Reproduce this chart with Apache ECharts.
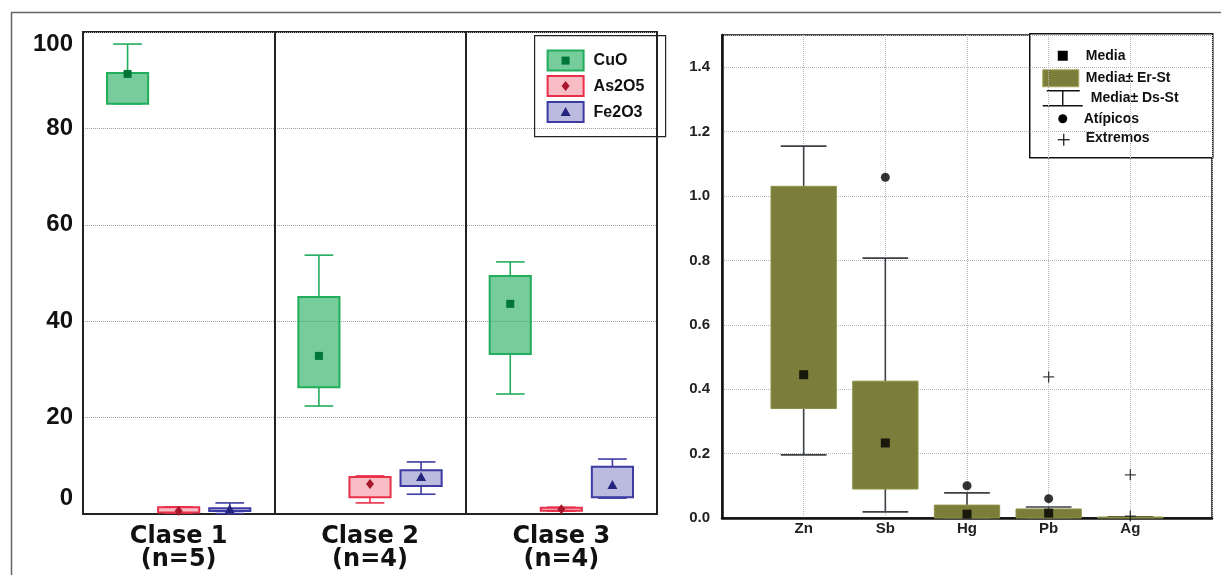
<!DOCTYPE html>
<html>
<head>
<meta charset="utf-8">
<script src="https://cdn.jsdelivr.net/npm/echarts@6/dist/echarts.min.js"></script>
<style>
html, body { margin: 0; padding: 0; background: #fff; }
#main { width: 1221px; height: 575px; }
</style>
</head>
<body>
<div id="main"></div>
<script>
// --- grafico izquierdo: composicion por clase (%) ---
var clases = ['Clase 1', 'Clase 2', 'Clase 3'];
var nClase = [5, 4, 4];

var cuoMin   = [85.1, 22.4, 24.9];
var cuoQ1    = [85.1, 26.3, 33.2];
var cuoMedia = [91.3, 32.8, 43.6];
var cuoQ3    = [91.5, 45.0, 49.4];
var cuoMax   = [97.5, 53.7, 52.3];

var asMin    = [0.2, 2.3, 0.6];
var asQ1     = [0.3, 3.5, 0.7];
var asMedia  = [0.6, 6.2, 1.0];
var asQ3     = [1.4, 7.7, 1.3];
var asMax    = [1.5, 7.9, 1.4];

var feMin    = [0.1, 4.1, 3.3];
var feQ1     = [0.6, 5.8, 3.5];
var feMedia  = [1.0, 7.7, 6.0];
var feQ3     = [1.2, 9.1, 9.8];
var feMax    = [2.3, 10.8, 11.4];

// --- grafico derecho: metales ---
var metales  = ['Zn', 'Sb', 'Hg', 'Pb', 'Ag'];
var media    = [0.445, 0.233, 0.012, 0.015, null];
var erInf    = [0.34, 0.09, 0, 0, 0];
var erSup    = [1.03, 0.425, 0.04, 0.028, 0.003];
var dsInf    = [0.196, 0.019, 0, 0, 0.001];
var dsSup    = [1.155, 0.807, 0.078, 0.034, 0.004];
var atipicos = [['Sb', 1.058], ['Hg', 0.10], ['Pb', 0.06]];
var extremos = [['Pb', 0.438], ['Ag', 0.134], ['Ag', 0.006]];

var cols = {
    cuo: { line: '#22ad5c', fill: 'rgba(34,173,92,0.62)', dark: '#00753a', mark: 'rect' },
    as:  { line: '#e8304a', fill: 'rgba(232,48,74,0.32)', dark: '#a8162c', mark: 'diamond' },
    fe:  { line: '#3b3ba3', fill: 'rgba(59,59,163,0.35)', dark: '#24247f', mark: 'triangle' }
};
var oliva = '#7b7e3b';

function marca(kind, x, y, color, s) {
    if (kind === 'rect') {
        return { type: 'rect', shape: { x: x - s / 2, y: y - s / 2, width: s, height: s }, style: { fill: color } };
    }
    if (kind === 'diamond') {
        return { type: 'polygon', shape: { points: [[x, y - s / 2 - 1], [x + s / 2, y], [x, y + s / 2 + 1], [x - s / 2, y]] }, style: { fill: color } };
    }
    return { type: 'polygon', shape: { points: [[x, y - s / 2 - 1], [x + s / 2 + 1, y + s / 2], [x - s / 2 - 1, y + s / 2]] }, style: { fill: color } };
}

function filas(mn, q1, md, q3, mx) {
    return clases.map(function (c, i) { return [i, mn[i], q1[i], md[i], q3[i], mx[i]]; });
}

function cajaClase(slot, col) {
    return function (params, api) {
        var band = api.size([1, 0])[0];
        var x = api.value(0);
        var cx = api.coord([x, 0])[0] + slot * band * 0.267;
        var yMin = api.coord([x, api.value(1)])[1];
        var yQ1 = api.coord([x, api.value(2)])[1];
        var yMed = api.coord([x, api.value(3)])[1];
        var yQ3 = api.coord([x, api.value(4)])[1];
        var yMax = api.coord([x, api.value(5)])[1];
        var w = band * 0.215, cap = band * 0.15;
        var ls = { stroke: col.line, lineWidth: 1.6 };
        return {
            type: 'group',
            children: [
                { type: 'line', shape: { x1: cx, y1: yMax, x2: cx, y2: yQ3 }, style: ls },
                { type: 'line', shape: { x1: cx, y1: yQ1, x2: cx, y2: yMin }, style: ls },
                { type: 'line', shape: { x1: cx - cap / 2, y1: yMax, x2: cx + cap / 2, y2: yMax }, style: ls },
                { type: 'line', shape: { x1: cx - cap / 2, y1: yMin, x2: cx + cap / 2, y2: yMin }, style: ls },
                { type: 'rect', shape: { x: cx - w / 2, y: yQ3, width: w, height: Math.max(yQ1 - yQ3, 2) },
                  style: { fill: col.fill, stroke: col.line, lineWidth: 2 } },
                marca(col.mark, cx, yMed, col.dark, 8)
            ]
        };
    };
}

function cajaMetal(params, api) {
    var band = api.size([1, 0])[0];
    var lo = api.coord([api.value(0), api.value(1)]);
    var hi = api.coord([api.value(0), api.value(2)]);
    var w = band * 0.8;
    return {
        type: 'rect',
        shape: { x: lo[0] - w / 2, y: hi[1], width: w, height: Math.max(lo[1] - hi[1], 1) },
        style: { fill: oliva, stroke: '#8e9146', lineWidth: 1 }
    };
}

function bigote(params, api) {
    var band = api.size([1, 0])[0];
    var x = api.value(0);
    var cx = api.coord([x, 0])[0];
    var y0 = api.coord([x, api.value(1)])[1];
    var y1 = api.coord([x, api.value(2)])[1];
    var y2 = api.coord([x, api.value(3)])[1];
    var y3 = api.coord([x, api.value(4)])[1];
    var cap = band * 0.56;
    var ls = { stroke: '#3c4045', lineWidth: 1.6 };
    return {
        type: 'group',
        children: [
            { type: 'line', shape: { x1: cx, y1: y0, x2: cx, y2: y1 }, style: ls },
            { type: 'line', shape: { x1: cx, y1: y2, x2: cx, y2: y3 }, style: ls },
            { type: 'line', shape: { x1: cx - cap / 2, y1: y0, x2: cx + cap / 2, y2: y0 }, style: ls },
            { type: 'line', shape: { x1: cx - cap / 2, y1: y3, x2: cx + cap / 2, y2: y3 }, style: ls }
        ]
    };
}

var catDerecha = [''].concat(metales).concat([' ']);
function idx(nombre) { return catDerecha.indexOf(nombre); }

var plus = 'path://M4.4,0h1.2v4.4h4.4v1.2h-4.4v4.4h-1.2v-4.4h-4.4v-1.2h4.4z';

var fontA = 'Liberation Sans, Arial, sans-serif';
var txtLeyenda = { fontFamily: fontA, fontWeight: 'bold', fill: '#111' };

var leyendaIzq = {
    type: 'group', left: 534, top: 35,
    children: [
        { type: 'rect', shape: { x: 0, y: 0, width: 131, height: 101 }, style: { fill: '#fff', stroke: '#222', lineWidth: 1.2 } }
    ]
};
[['CuO', cols.cuo, 25], ['As2O5', cols.as, 50.5], ['Fe2O3', cols.fe, 76.5]].forEach(function (it) {
    leyendaIzq.children.push(
        { type: 'rect', shape: { x: 13, y: it[2] - 10, width: 36, height: 20 }, style: { fill: it[1].fill, stroke: it[1].line, lineWidth: 2 } },
        marca(it[1].mark, 31, it[2], it[1].dark, 8),
        { type: 'text', x: 59, y: it[2], style: Object.assign({ text: it[0], fontSize: 16, verticalAlign: 'middle' }, txtLeyenda) }
    );
});

var leyendaDer = {
    type: 'group', left: 1029, top: 33,
    children: [
        { type: 'rect', shape: { x: 0, y: 0, width: 183, height: 124 }, style: { fill: '#fff', stroke: '#111', lineWidth: 1.5 } },
        { type: 'rect', shape: { x: 28, y: 17, width: 10, height: 10 }, style: { fill: '#000' } },
        { type: 'text', x: 56, y: 22, style: Object.assign({ text: 'Media', fontSize: 14, verticalAlign: 'middle' }, txtLeyenda) },
        { type: 'rect', shape: { x: 13, y: 36, width: 36, height: 17 }, style: { fill: oliva, stroke: '#a7a95f', lineWidth: 1 } },
        { type: 'text', x: 56, y: 44, style: Object.assign({ text: 'Media\u00b1 Er-St', fontSize: 14, verticalAlign: 'middle' }, txtLeyenda) },
        { type: 'line', shape: { x1: 17, y1: 57, x2: 50, y2: 57 }, style: { stroke: '#111', lineWidth: 1.4 } },
        { type: 'line', shape: { x1: 33, y1: 57, x2: 33, y2: 72 }, style: { stroke: '#111', lineWidth: 1.4 } },
        { type: 'line', shape: { x1: 13, y1: 72, x2: 53, y2: 72 }, style: { stroke: '#111', lineWidth: 1.4 } },
        { type: 'text', x: 61, y: 64, style: Object.assign({ text: 'Media\u00b1 Ds-St', fontSize: 14, verticalAlign: 'middle' }, txtLeyenda) },
        { type: 'circle', shape: { cx: 33, cy: 85, r: 4.5 }, style: { fill: '#000' } },
        { type: 'text', x: 54, y: 85, style: Object.assign({ text: 'At\u00edpicos', fontSize: 14, verticalAlign: 'middle' }, txtLeyenda) },
        { type: 'line', shape: { x1: 28, y1: 106, x2: 40, y2: 106 }, style: { stroke: '#111', lineWidth: 1.2 } },
        { type: 'line', shape: { x1: 34, y1: 100, x2: 34, y2: 112 }, style: { stroke: '#111', lineWidth: 1.2 } },
        { type: 'text', x: 56, y: 104, style: Object.assign({ text: 'Extremos', fontSize: 14, verticalAlign: 'middle' }, txtLeyenda) }
    ]
};

var chart = echarts.init(document.getElementById('main'));
var option = {
    backgroundColor: '#fff',
    animation: false,
    grid: [
        { left: 83, top: 32, width: 574, height: 482, show: true, borderColor: '#222', borderWidth: 2, backgroundColor: 'transparent', outerBoundsMode: 'none' },
        { left: 722, top: 35, width: 490, height: 483, show: true, borderColor: '#111', borderWidth: 1.5, backgroundColor: 'transparent', outerBoundsMode: 'none' }
    ],
    xAxis: [
        {
            gridIndex: 0, type: 'category',
            data: clases.map(function (c, i) { return c + '\n(n=' + nClase[i] + ')'; }),
            axisLine: { lineStyle: { color: '#222', width: 2 } },
            axisTick: { show: false },
            axisLabel: { color: '#111', fontFamily: 'DejaVu Sans, sans-serif', fontWeight: 'bold', fontSize: 24, lineHeight: 23, margin: 11 },
            splitLine: { show: true, lineStyle: { color: '#222', width: 2 } }
        },
        {
            gridIndex: 1, type: 'category', boundaryGap: false, data: catDerecha,
            axisLine: { lineStyle: { color: '#111', width: 2.5 } },
            axisTick: { show: false },
            axisLabel: { color: '#222', fontFamily: fontA, fontWeight: 'bold', fontSize: 15, margin: 3, interval: 0 },
            splitLine: { show: true, lineStyle: { color: '#b5b5b5', type: 'dotted', width: 1 } }
        }
    ],
    yAxis: [
        {
            gridIndex: 0, type: 'value', min: 0, max: 100, interval: 20,
            axisLine: { show: true, lineStyle: { color: '#222', width: 2 } },
            axisTick: { show: false },
            axisLabel: {
                color: '#111', fontFamily: fontA, fontWeight: 'bold', fontSize: 24, margin: 10,
                formatter: function (v) {
                    if (v === 100) return '{a|100}';
                    if (v === 0) return '{b|0}';
                    return v;
                },
                rich: {
                    a: { fontFamily: fontA, fontWeight: 'bold', fontSize: 24, color: '#111', padding: [24, 0, 0, 0] },
                    b: { fontFamily: fontA, fontWeight: 'bold', fontSize: 24, color: '#111', padding: [0, 0, 32, 0] }
                }
            },
            splitLine: { show: true, lineStyle: { color: '#a0a0a0', type: 'dotted', width: 1 } }
        },
        {
            gridIndex: 1, type: 'value', min: 0, max: 1.5, interval: 0.2,
            axisLine: { show: true, lineStyle: { color: '#111', width: 2.5 } },
            axisTick: { show: false },
            axisLabel: {
                color: '#222', fontFamily: fontA, fontWeight: 'bold', fontSize: 15, margin: 12, showMaxLabel: false,
                formatter: function (v) { return v.toFixed(1); }
            },
            splitLine: { show: true, lineStyle: { color: '#b5b5b5', type: 'dotted', width: 1 } }
        }
    ],
    series: [
        { name: 'CuO', type: 'custom', xAxisIndex: 0, yAxisIndex: 0, renderItem: cajaClase(-1, cols.cuo),
          data: filas(cuoMin, cuoQ1, cuoMedia, cuoQ3, cuoMax) },
        { name: 'As2O5', type: 'custom', xAxisIndex: 0, yAxisIndex: 0, renderItem: cajaClase(0, cols.as),
          data: filas(asMin, asQ1, asMedia, asQ3, asMax) },
        { name: 'Fe2O3', type: 'custom', xAxisIndex: 0, yAxisIndex: 0, renderItem: cajaClase(1, cols.fe),
          data: filas(feMin, feQ1, feMedia, feQ3, feMax) },
        { name: 'Media\u00b1 Ds-St', type: 'custom', xAxisIndex: 1, yAxisIndex: 1, renderItem: bigote,
          data: metales.map(function (m, i) { return [idx(m), dsInf[i], erInf[i], erSup[i], dsSup[i]]; }) },
        { name: 'Media\u00b1 Er-St', type: 'custom', xAxisIndex: 1, yAxisIndex: 1, renderItem: cajaMetal,
          data: metales.map(function (m, i) { return [idx(m), erInf[i], erSup[i]]; }) },
        { name: 'Media', type: 'scatter', xAxisIndex: 1, yAxisIndex: 1, symbol: 'rect', symbolSize: 9,
          itemStyle: { color: '#000' },
          data: metales.map(function (m, i) { return media[i] == null ? [idx(m), '-'] : [idx(m), media[i]]; }) },
        { name: 'At\u00edpicos', type: 'scatter', xAxisIndex: 1, yAxisIndex: 1, symbol: 'circle', symbolSize: 9,
          itemStyle: { color: '#000' },
          data: atipicos.map(function (d) { return [idx(d[0]), d[1]]; }) },
        { name: 'Extremos', type: 'scatter', xAxisIndex: 1, yAxisIndex: 1, symbol: plus, symbolSize: 11,
          itemStyle: { color: '#111' },
          data: extremos.map(function (d) { return [idx(d[0]), d[1]]; }) }
    ],
    graphic: [
        { type: 'rect', left: 9, top: 10, shape: { x: 0, y: 0, width: 1230, height: 580 }, style: { fill: 'none', stroke: '#666', lineWidth: 1.5 }, z: -10 },
        leyendaIzq,
        leyendaDer
    ]
};
chart.setOption(option);
</script>
</body>
</html>
